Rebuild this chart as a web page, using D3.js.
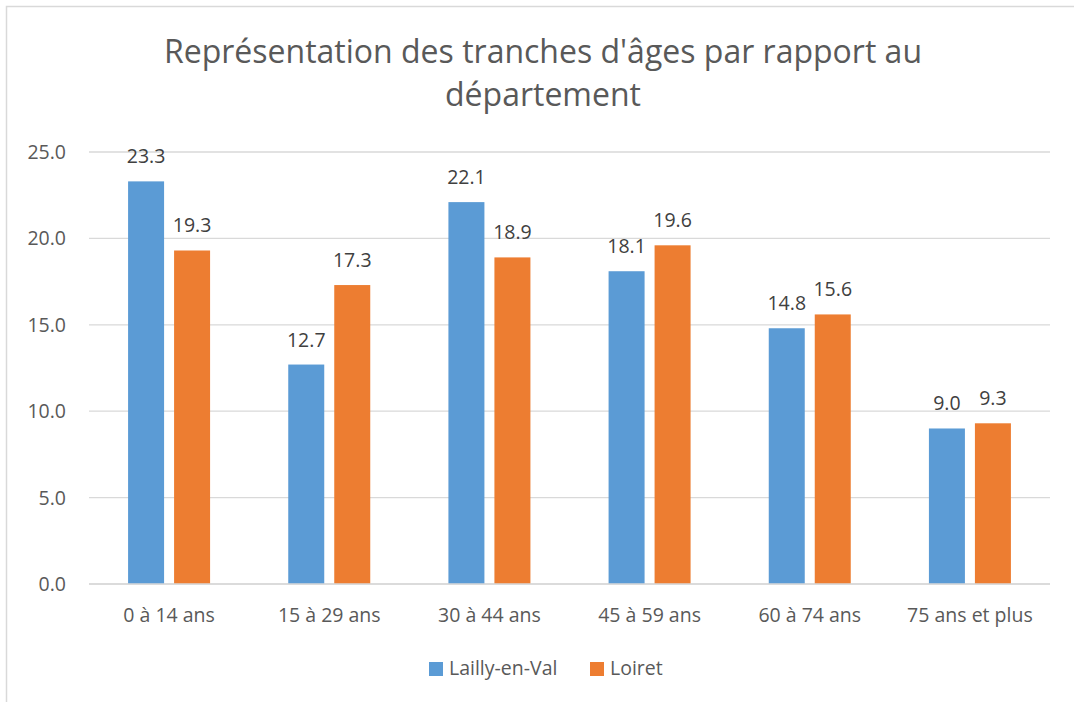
<!DOCTYPE html>
<html lang="fr">
<head>
  <meta charset="UTF-8">
  <title>Représentation des tranches d'âges</title>
  <script src="https://d3js.org/d3.v7.min.js"></script>
  <style>
    body { margin: 0; background: #fff; font-family: "Open Sans", sans-serif; }
    text { fill: #595959; }
  </style>
</head>
<body>
  <svg width="1074" height="702"></svg>
  <script>
    const categories = ["0 à 14 ans", "15 à 29 ans", "30 à 44 ans", "45 à 59 ans", "60 à 74 ans", "75 ans et plus"];
    const series = ["Lailly-en-Val", "Loiret"];
    const laillyValues = [23.3, 12.7, 22.1, 18.1, 14.8, 9.0];
    const loiretValues = [19.3, 17.3, 18.9, 19.6, 15.6, 9.3];
    const yTicks = [0, 5, 10, 15, 20, 25];
    const colors = ["#5b9bd5", "#ed7d31"];

    const svg = d3.select("svg");
    const margin = { left: 89, right: 1050, top: 152, bottom: 584 };
    const fs = 19.5;

    // chart frame (only left/top edges fall inside the picture)
    svg.append("rect")
      .attr("x", 6.5).attr("y", 6.5)
      .attr("width", 1100).attr("height", 720)
      .attr("fill", "none").attr("stroke", "#d9d9d9").attr("stroke-width", 1.5);

    const x = d3.scaleBand().domain(categories).range([margin.left, margin.right]);
    const y = d3.scaleLinear().domain([0, 25]).range([margin.bottom, margin.top]);

    // gridlines
    svg.selectAll(".grid")
      .data(yTicks)
      .enter().append("line")
      .attr("x1", margin.left).attr("x2", margin.right)
      .attr("y1", d => y(d)).attr("y2", d => y(d))
      .attr("stroke", "#d9d9d9").attr("stroke-width", 1.3);

    svg.selectAll(".ytick")
      .data(yTicks)
      .enter().append("text")
      .attr("x", 66).attr("y", d => y(d) + 7)
      .attr("text-anchor", "end")
      .attr("font-size", fs)
      .text(d => d.toFixed(1));

    const barW = 36, gap = 10;
    const data = [laillyValues, loiretValues];
    data.forEach((vals, s) => {
      const off = s === 0 ? -gap / 2 - barW : gap / 2;
      svg.selectAll(".bar" + s)
        .data(vals)
        .enter().append("rect")
        .attr("x", (d, i) => x(categories[i]) + x.bandwidth() / 2 + off)
        .attr("y", d => y(d))
        .attr("width", barW)
        .attr("height", d => y(0) - y(d))
        .attr("fill", colors[s]);
      svg.selectAll(".lab" + s)
        .data(vals)
        .enter().append("text")
        .attr("x", (d, i) => x(categories[i]) + x.bandwidth() / 2 + off + barW / 2)
        .attr("y", d => y(d) - 18)
        .attr("text-anchor", "middle")
        .attr("font-size", fs)
        .style("fill", "#404040")
        .text(d => d.toFixed(1));
    });

    // redraw baseline on top of bars
    svg.append("line")
      .attr("x1", margin.left).attr("x2", margin.right)
      .attr("y1", y(0)).attr("y2", y(0))
      .attr("stroke", "#d9d9d9").attr("stroke-width", 1.3);

    svg.selectAll(".xtick")
      .data(categories)
      .enter().append("text")
      .attr("x", d => x(d) + x.bandwidth() / 2)
      .attr("y", 622)
      .attr("text-anchor", "middle")
      .attr("font-size", fs)
      .text(d => d);

    // title
    const title = svg.append("text")
      .attr("text-anchor", "middle")
      .attr("font-size", 32);
    title.append("tspan").attr("x", 543).attr("y", 63).text("Représentation des tranches d'âges par rapport au");
    title.append("tspan").attr("x", 543).attr("y", 106).text("département");

    // legend
    const legendX = [429, 590];
    series.forEach((name, i) => {
      svg.append("rect")
        .attr("x", legendX[i]).attr("y", 662)
        .attr("width", 14).attr("height", 14)
        .attr("fill", colors[i]);
      svg.append("text")
        .attr("x", legendX[i] + 20).attr("y", 675)
        .attr("font-size", fs)
        .text(name);
    });
  </script>
</body>
</html>
